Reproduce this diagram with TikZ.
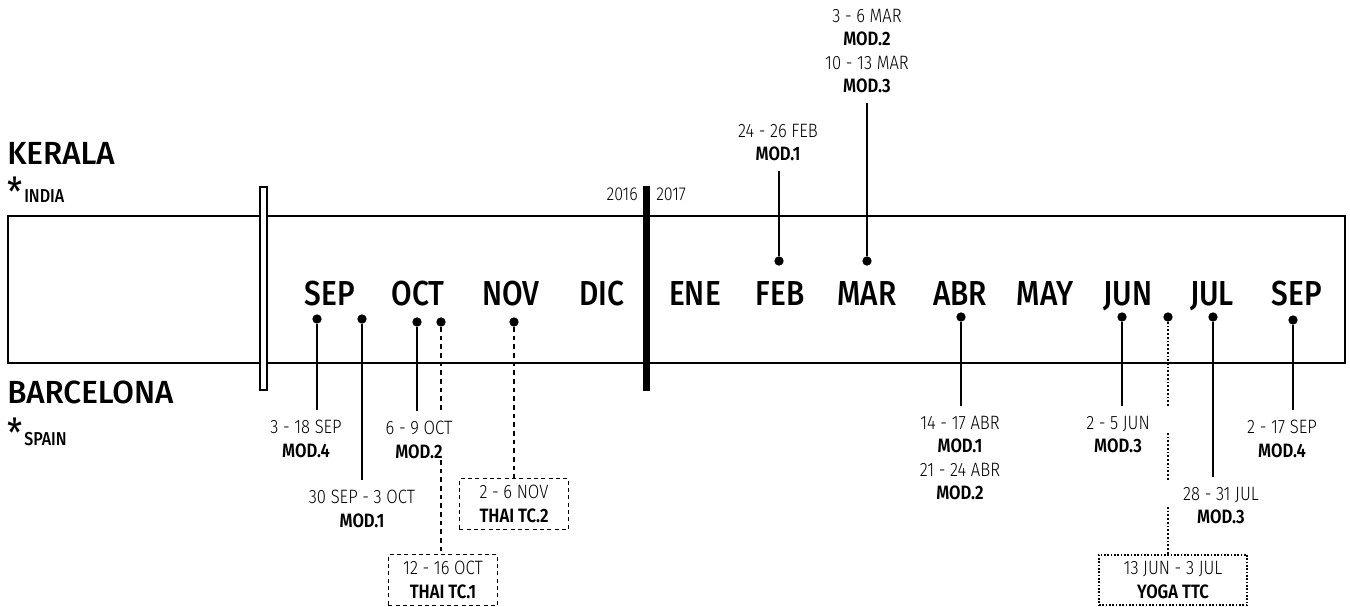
\documentclass[tikz,border=0pt]{standalone}
\usepackage{fontspec}
\setmainfont{Fira Sans}[FakeStretch=0.86]
\newfontfamily\lightf{Fira Sans Light}[FakeStretch=0.86]
\newfontfamily\medf{Fira Sans Medium}[FakeStretch=0.86]
\newfontfamily\cityf{Fira Sans Medium}[FakeStretch=0.98]
\newfontfamily\semif{Fira Sans SemiBold}[FakeStretch=0.86]
\begin{document}
\begin{tikzpicture}[x=0.75pt,y=-0.75pt,
  month/.style={font=\medf\fontsize{26}{28}\selectfont, inner sep=0pt, anchor=base},
  city/.style={font=\cityf\fontsize{24}{26}\selectfont, inner sep=0pt, anchor=west},
  country/.style={font=\medf\fontsize{14}{15}\selectfont, inner sep=0pt, anchor=base west},
  star/.style={font=\fontsize{30}{30}\selectfont, inner sep=0pt, anchor=center},
  ev/.style={align=center, inner xsep=1pt, inner ysep=7.5pt, font=\lightf\fontsize{14.5}{17.5}\selectfont},
  yr/.style={font=\lightf\fontsize{14}{15}\selectfont, inner sep=0pt},
  dot/.style={circle, fill=black, inner sep=0pt, minimum size=7pt},
  stem/.style={line width=0.8pt},
  dashline/.style={line width=1.9pt, dash pattern=on 3.5pt off 3pt},
  dotline/.style={line width=1.9pt, dash pattern=on 1.3pt off 1.5pt},
  dashbox/.style={draw, line width=1.2pt, dash pattern=on 3pt off 2.5pt, align=center, minimum width=82pt, minimum height=38pt, inner sep=0pt, font=\lightf\fontsize{14.5}{17.5}\selectfont},
  dotbox/.style={draw, line width=1.4pt, dash pattern=on 1.2pt off 1.3pt, align=center, minimum width=111pt, minimum height=38pt, inner sep=0pt, font=\lightf\fontsize{14.5}{17.5}\selectfont}
]
\newcommand\md[1]{{\semif #1}}
\useasboundingbox (0,0) rectangle (1350,607);
% frame
\draw[line width=1.2pt] (8,216) rectangle (1345,363);
\draw[line width=1.1pt, fill=white] (260,187) rectangle (267,390);
\fill (643,186) rectangle (650,391);
\node[yr, anchor=east] (y16) at (638,194) {2016};
\node[yr, anchor=west] (y17) at (656,194) {2017};
% cities
\node[city] (kerala) at (7,153) {KERALA};
\node[star] (s1) at (15,192) {*};
\node[country, anchor=base west] (india) at (24,202) {INDIA};
\node[city] (barca) at (7,392) {BARCELONA};
\node[star] (s2) at (15,433) {*};
\node[country, anchor=base west] (spain) at (24,445) {SPAIN};
% months
\node[month] (m1) at (330,305) {SEP};
\node[month] (m2) at (418,305) {OCT};
\node[month] (m3) at (511,305) {NOV};
\node[month] (m4) at (602,305) {DIC};
\node[month] (m5) at (695,305) {ENE};
\node[month] (m6) at (780,305) {FEB};
\node[month] (m7) at (867,305) {MAR};
\node[month] (m8) at (960,305) {ABR};
\node[month] (m9) at (1045,305) {MAY};
\node[month] (m10) at (1128,305) {JUN};
\node[month] (m11) at (1212,305) {JUL};
\node[month] (m12) at (1297,305) {SEP};
% events below
\node[dot] (d1) at (317,319) {};
\node[ev, anchor=north] (e1) at (306,410) {3 - 18 SEP\\\md{MOD.4}};
\draw[stem] (d1) -- (e1.north -| d1);
\node[dot] (d2) at (362,319) {};
\node[ev, anchor=north] (e2) at (362,480) {30 SEP - 3 OCT\\\md{MOD.1}};
\draw[stem] (d2) -- (e2.north -| d2);
\node[dot] (d3) at (417,322) {};
\node[ev, anchor=north] (e3) at (419,411) {6 - 9 OCT\\\md{MOD.2}};
\draw[stem] (d3) -- (e3.north -| d3);
\node[dot] (d4) at (441,322) {};
\node[dashbox] (b1) at (443,580) {12 - 16 OCT\\\md{THAI TC.1}};
\coordinate (g1) at (441,412);
\coordinate (g2) at (441,460);
\draw[dashline] (d4) -- (g1);
\draw[dashline] (g2) -- (b1.north -| d4);
\node[dot] (d5) at (514,322) {};
\node[dashbox] (b2) at (514,504) {2 - 6 NOV\\\md{THAI TC.2}};
\draw[dashline] (d5) -- (b2.north);
% events above
\node[dot] (d6) at (779,261) {};
\node[ev, anchor=south] (e6) at (778,171) {24 - 26 FEB\\\md{MOD.1}};
\draw[stem] (d6) -- (e6.south -| d6);
\node[dot] (d7) at (867,261) {};
\node[ev, anchor=south] (e7) at (867,103) {3 - 6 MAR\\\md{MOD.2}\\10 - 13 MAR\\\md{MOD.3}};
\draw[stem] (d7) -- (e7.south -| d7);
% 2017 below
\node[dot] (d8) at (961,317) {};
\node[ev, anchor=north] (e8) at (960,406) {14 - 17 ABR\\\md{MOD.1}\\21 - 24 ABR\\\md{MOD.2}};
\draw[stem] (d8) -- (e8.north -| d8);
\node[dot] (d9) at (1122,317) {};
\node[ev, anchor=north] (e9) at (1118,406) {2 - 5 JUN\\\md{MOD.3}};
\draw[stem] (d9) -- (e9.north -| d9);
\node[dot] (d10) at (1168,317) {};
\node[dotbox] (b3) at (1173,580) {13 JUN - 3 JUL\\\md{YOGA TTC}};
\coordinate (h1) at (1168,407);
\coordinate (h2) at (1168,433);
\coordinate (h3) at (1168,480);
\coordinate (h4) at (1168,507);
\draw[dotline] (d10) -- (h1);
\draw[dotline] (h2) -- (h3);
\draw[dotline] (h4) -- (b3.north -| d10);
\node[dot] (d11) at (1213,317) {};
\node[ev, anchor=north] (e11) at (1221,477) {28 - 31 JUL\\\md{MOD.3}};
\draw[stem] (d11) -- (e11.north -| d11);
\node[dot] (d12) at (1293,320) {};
\node[ev, anchor=north] (e12) at (1282,410) {2 - 17 SEP\\\md{MOD.4}};
\draw[stem] (d12) -- (e12.north -| d12);
\end{tikzpicture}
\end{document}
